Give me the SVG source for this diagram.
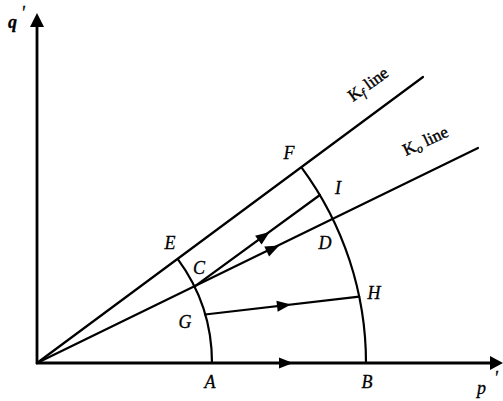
<svg xmlns="http://www.w3.org/2000/svg" width="503" height="401" viewBox="0 0 503 401">
<style>
.ln{stroke:#000;stroke-width:2.2;fill:none;stroke-linecap:round}
.ax{stroke:#000;stroke-width:2.8;fill:none}
.lb{font-family:"Liberation Serif",serif;font-style:italic;font-size:18px;fill:#000;stroke:#000;stroke-width:0.3}
.kl{font-family:"Liberation Serif",serif;font-size:17px;fill:#000;stroke:#000;stroke-width:0.4}
</style>
<defs>
<path id="ah" d="M7,0 L-7,-5.5 L-7,5.5 Z" fill="#000"/>
</defs>
<rect width="503" height="401" fill="#fff"/>
<g id="connectors">
<line class="ax" x1="37" y1="364" x2="37" y2="24"/>
<line class="ax" x1="36" y1="363" x2="492" y2="363"/>
<line class="ln" x1="37" y1="363" x2="423" y2="77"/>
<line class="ln" x1="37" y1="363" x2="478" y2="148"/>
<path class="ln" d="M177.8,259.2 A175,175 0 0 1 212,363"/>
<path class="ln" d="M301.8,167.8 A329,329 0 0 1 366,363"/>
<line class="ln" x1="194.4" y1="286.6" x2="319.9" y2="195"/>
<line class="ln" x1="205.1" y1="314.5" x2="359.2" y2="296.6"/>
<use href="#ah" transform="translate(264,236) rotate(-36.1)"/>
<use href="#ah" transform="translate(273,248.5) rotate(-25.9)"/>
<use href="#ah" transform="translate(284,305.4) rotate(-6.6)"/>
<use href="#ah" transform="translate(286,363)"/>
<path d="M37,13 L44,27 L30,27 Z" fill="#000"/>
<path d="M503,363 L490,356 L490,370 Z" fill="#000"/>
</g>
<g id="axis-labels">
<text class="lb" x="8" y="28" font-weight="bold" font-size="19">q</text>
<text class="lb" x="21" y="19" font-size="13">'</text>
<text class="lb" x="477" y="394" font-size="20">p</text>
<text class="lb" x="494" y="384" font-size="13">'</text>
</g>
<g id="line-labels">
<text class="kl" transform="translate(353,102) rotate(-36)">K<tspan font-size="12" font-style="italic" dy="3">f</tspan><tspan dy="-3"> line</tspan></text>
<text class="kl" transform="translate(406,156) rotate(-25)">K<tspan font-size="12" font-style="italic" dy="3">o</tspan><tspan dy="-3"> line</tspan></text>
</g>
<g id="node-E"><text class="lb" x="170" y="249" text-anchor="middle">E</text></g>
<g id="node-C"><text class="lb" x="199" y="274" text-anchor="middle">C</text></g>
<g id="node-F"><text class="lb" x="289" y="159" text-anchor="middle">F</text></g>
<g id="node-I"><text class="lb" x="338" y="194" text-anchor="middle">I</text></g>
<g id="node-D"><text class="lb" x="325" y="249" text-anchor="middle">D</text></g>
<g id="node-H"><text class="lb" x="374" y="299" text-anchor="middle">H</text></g>
<g id="node-G"><text class="lb" x="185" y="328" text-anchor="middle">G</text></g>
<g id="node-A"><text class="lb" x="210" y="388" text-anchor="middle">A</text></g>
<g id="node-B"><text class="lb" x="367" y="388" text-anchor="middle">B</text></g>
</svg>
